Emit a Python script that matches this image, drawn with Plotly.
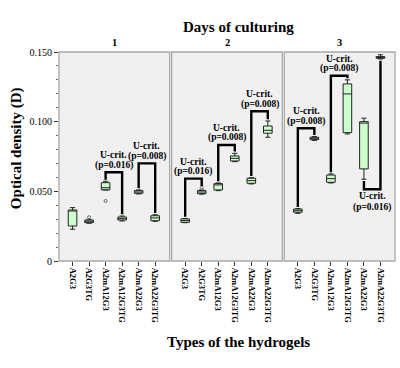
import plotly.graph_objects as go

days = ["1", "2", "3"]
hydrogels = ["A2G3", "A2G3TG", "A2mA12G3", "A2mA12G3TG", "A2mA22G3", "A2mA22G3TG"]

# Box statistics per day (order follows `hydrogels`)
day1_min = [0.0228, 0.0271, 0.0510, 0.0287, 0.0481, 0.0285]
day1_q1 = [0.0251, 0.0275, 0.0510, 0.0294, 0.0486, 0.0289]
day1_med = [0.0361, 0.0285, 0.0526, 0.0304, 0.0495, 0.0309]
day1_q3 = [0.0366, 0.0294, 0.0562, 0.0316, 0.0505, 0.0325]
day1_max = [0.0383, 0.0299, 0.0572, 0.0323, 0.0510, 0.0332]

day2_min = [0.0275, 0.0480, 0.0505, 0.0713, 0.0553, 0.0888]
day2_q1 = [0.0278, 0.0483, 0.0510, 0.0718, 0.0558, 0.0917]
day2_med = [0.0290, 0.0495, 0.0546, 0.0737, 0.0577, 0.0938]
day2_q3 = [0.0302, 0.0505, 0.0555, 0.0754, 0.0594, 0.0969]
day2_max = [0.0305, 0.0510, 0.0560, 0.0773, 0.0598, 0.1005]

day3_min = [0.0342, 0.0866, 0.0560, 0.0912, 0.0587, 0.1450]
day3_q1 = [0.0350, 0.0871, 0.0565, 0.0921, 0.0661, 0.1455]
day3_med = [0.0361, 0.0881, 0.0591, 0.1199, 0.0990, 0.1461]
day3_q3 = [0.0373, 0.0888, 0.0617, 0.1271, 0.1000, 0.1467]
day3_max = [0.0376, 0.0893, 0.0625, 0.1300, 0.1025, 0.1480]

# Outliers: (day index, hydrogel index, value)
outliers = [(0, 1, 0.0314), (0, 2, 0.0431), (1, 1, 0.0527)]

# Significance brackets: (day index, left hydrogel, right hydrogel, bracket level, p-value, direction)
brackets = [
    (0, 2, 3, 0.0637, "0.016", "up"),
    (0, 4, 5, 0.0701, "0.008", "up"),
    (1, 0, 1, 0.0591, "0.016", "up"),
    (1, 2, 3, 0.0833, "0.008", "up"),
    (1, 4, 5, 0.1075, "0.008", "up"),
    (2, 0, 1, 0.0953, "0.008", "up"),
    (2, 2, 3, 0.1330, "0.008", "up"),
    (2, 4, 5, 0.0515, "0.016", "down"),
]

y_tickvals = [0, 0.05, 0.10, 0.15]
y_ticktext = ["0", "0.050", "0.100", "0.150"]

stats = [
    (day1_min, day1_q1, day1_med, day1_q3, day1_max),
    (day2_min, day2_q1, day2_med, day2_q3, day2_max),
    (day3_min, day3_q1, day3_med, day3_q3, day3_max),
]

SERIF = "Liberation Serif"
xnames = ["x", "x2", "x3"]
positions = list(range(len(hydrogels)))

fig = go.Figure()

for d, (mn, q1, med, q3, mx) in enumerate(stats):
    fig.add_trace(go.Box(
        x=positions, q1=q1, median=med, q3=q3, lowerfence=mn, upperfence=mx,
        xaxis=xnames[d], yaxis="y", width=0.52, whiskerwidth=0.6,
        fillcolor="#ccffcc", line=dict(color="#222222", width=1),
        boxpoints=False, showlegend=False, hoverinfo="skip",
    ))

for d in range(3):
    ox = [h for (dd, h, v) in outliers if dd == d]
    oy = [v for (dd, h, v) in outliers if dd == d]
    if ox:
        fig.add_trace(go.Scatter(
            x=ox, y=oy, xaxis=xnames[d], yaxis="y", mode="markers",
            marker=dict(symbol="circle-open", size=3, color="#666666", line=dict(width=1)),
            showlegend=False, hoverinfo="skip",
        ))

gap = 0.0012
annotations = []
for (d, i, j, level, p, direction) in brackets:
    mn, q1, med, q3, mx = stats[d]
    if direction == "up":
        def top_of(k):
            vals = [mx[k]] + [v for (dd, h, v) in outliers if dd == d and h == k]
            return max(vals) + gap
        yi, yj = top_of(i), top_of(j)
    else:
        yi, yj = mn[i] - gap, mn[j] - gap
    fig.add_trace(go.Scatter(
        x=[i, i, j, j], y=[yi, level, level, yj], xaxis=xnames[d], yaxis="y",
        mode="lines", line=dict(color="black", width=2.4),
        showlegend=False, hoverinfo="skip",
    ))
    xm = (i + j) / 2
    annotations.append(dict(
        x=xm, y=level, xref=xnames[d], yref="y", text="U-crit.", showarrow=False,
        yanchor="middle", yshift=17 if direction == "up" else -6.5,
        font=dict(family=SERIF, size=9.5, color="black", weight="bold"),
    ))
    annotations.append(dict(
        x=xm, y=level, xref=xnames[d], yref="y", text="(p=%s)" % p, showarrow=False,
        yanchor="middle", yshift=7 if direction == "up" else -18,
        font=dict(family=SERIF, size=9.5, color="black", weight="bold"),
    ))

domains = [[0.0, 0.3295], [0.3352, 0.6648], [0.6705, 1.0]]

shapes = []
for d in range(3):
    shapes.append(dict(
        type="rect", xref=xnames[d] + " domain", yref="y domain",
        x0=0, x1=1, y0=0, y1=1, line=dict(color="#a8a8a8", width=1.3),
        fillcolor="rgba(0,0,0,0)", layer="above",
    ))
    annotations.append(dict(
        x=0.5, y=1, xref=xnames[d] + " domain", yref="paper", text=days[d],
        showarrow=False, yanchor="bottom", yshift=2,
        font=dict(family=SERIF, size=10.5, color="black", weight="bold"),
    ))

annotations.append(dict(
    x=0.533, y=1, xref="paper", yref="paper", text="Days of culturing",
    showarrow=False, yanchor="middle", yshift=25,
    font=dict(family=SERIF, size=15, color="black", weight="bold"),
))
annotations.append(dict(
    x=0.533, y=0, xref="paper", yref="paper", text="Types of the hydrogels",
    showarrow=False, yanchor="middle", yshift=-81,
    font=dict(family=SERIF, size=15, color="black", weight="bold"),
))
annotations.append(dict(
    x=-0.128, y=0.54, xref="paper", yref="paper", text="Optical density (D)",
    showarrow=False, textangle=-90, xanchor="center", yanchor="middle",
    font=dict(family=SERIF, size=15, color="black", weight="bold"),
))

layout = dict(
    width=400, height=368,
    margin=dict(l=59, r=5, t=52, b=107),
    paper_bgcolor="white", plot_bgcolor="#f0f0f0",
    showlegend=False,
    annotations=annotations, shapes=shapes,
    yaxis=dict(
        range=[0, 0.15], tickvals=y_tickvals, ticktext=y_ticktext,
        showgrid=False, zeroline=False, showline=False,
        ticks="outside", ticklen=4, tickcolor="#333333",
        minor=dict(dtick=0.01, ticks="outside", ticklen=2, tickcolor="#666666", showgrid=False),
        tickfont=dict(family=SERIF, size=10, color="black"),
        anchor="x",
    ),
)
for d in range(3):
    key = "xaxis" if d == 0 else "xaxis%d" % (d + 1)
    layout[key] = dict(
        domain=domains[d], anchor="y", range=[-0.82, 5.88],
        tickvals=positions, ticktext=hydrogels, tickangle=90,
        showgrid=False, zeroline=False, showline=False,
        ticks="outside", ticklen=4, tickcolor="#333333",
        tickfont=dict(family=SERIF, size=8.5, color="black", weight="bold"),
    )

fig.update_layout(**layout)
fig.write_html(
    "out.html",
    config={"displayModeBar": False},
    post_script="document.body.style.margin='0px';document.body.style.overflow='hidden';",
)
